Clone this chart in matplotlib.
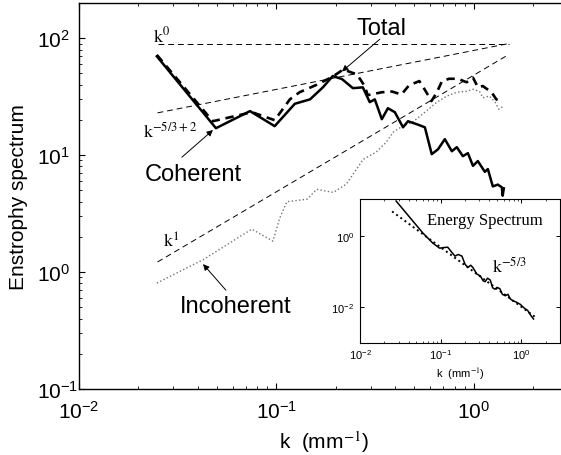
import numpy as np
import matplotlib
matplotlib.use('Agg')
import matplotlib.pyplot as plt
from matplotlib.ticker import LogLocator, LogFormatterSciNotation, NullFormatter, NullLocator

plt.rcParams['font.family'] = ['Liberation Sans', 'DejaVu Sans']
plt.rcParams['mathtext.fontset'] = 'stix'

# coherent part of the enstrophy spectrum
k_coh = [0.0248, 0.0494, 0.0735, 0.098, 0.124, 0.148, 0.172, 0.193, 0.215, 0.244,
         0.274, 0.297, 0.315, 0.342, 0.367, 0.398, 0.438, 0.464, 0.514, 0.565,
         0.612, 0.658, 0.713, 0.774, 0.82, 0.88, 0.933, 0.99, 1.048, 1.137,
         1.178, 1.248, 1.324, 1.387, 1.40, 1.419]
E_coh = [70, 17, 23.8, 17.7, 27.5, 30, 38, 47.5, 44.7, 37.4,
         38, 28.4, 30, 20.3, 25.2, 23.3, 17.3, 19.5, 18.4, 17.3,
         10.2, 11.2, 13.7, 10.8, 11.7, 9.8, 10.4, 8.1, 8.9, 7.2,
         7.6, 5.4, 5.6, 5.3, 4.5, 5.2]

# total spectrum
k_tot = [0.0248, 0.0476, 0.0752, 0.098, 0.117, 0.131, 0.160, 0.193, 0.218, 0.256,
         0.28, 0.29, 0.342, 0.385, 0.43, 0.47, 0.53, 0.575, 0.61, 0.65,
         0.69, 0.75, 0.83, 0.92, 0.99, 1.05, 1.11, 1.23, 1.30, 1.39]
E_tot = [72, 19.5, 23.3, 19.9, 30, 34.5, 40, 47, 54, 49,
         39, 32.6, 34.5, 35, 33, 39.6, 43, 34.5, 29, 34.5,
         43, 45, 45, 42, 46, 38, 39, 34.5, 30, 28.4]

# incoherent part
k_inc = [0.0248, 0.043, 0.075, 0.096, 0.104, 0.113, 0.143, 0.16, 0.194, 0.226,
         0.275, 0.32, 0.36, 0.39, 0.435, 0.49, 0.55, 0.65, 0.73, 0.82,
         0.92, 0.99, 1.07, 1.11, 1.2, 1.28, 1.34, 1.40]
E_inc = [0.805, 1.29, 2.33, 1.84, 2.9, 4.0, 4.2, 5.1, 4.8, 5.65,
         9.2, 10.6, 12.9, 15.7, 17.7, 19.2, 22.4, 28.4, 32, 34.5,
         35.2, 36.6, 35, 31, 32, 28.4, 24.7, 26]

# power-law guide lines (end points)
k_ref0 = [0.025, 1.5]
E_ref0 = [90, 90]
k_ref13 = [0.025, 1.5]
E_ref13 = [23, 90]
k_ref1 = [0.025, 1.45]
E_ref1 = [1.22, 70]

# inset: energy spectrum
k_en = [0.028, 0.06, 0.08, 0.097, 0.11, 0.122, 0.135, 0.15, 0.165, 0.183,
        0.2, 0.217, 0.235, 0.25, 0.28, 0.31, 0.335, 0.355, 0.38, 0.41,
        0.44, 0.47, 0.5, 0.54, 0.58, 0.63, 0.68, 0.73, 0.79, 0.86,
        0.97, 1.08, 1.19, 1.3, 1.41]
E_en = [9.4, 1.2, 0.62, 0.45, 0.47, 0.48, 0.36, 0.27, 0.30, 0.27,
        0.16, 0.13, 0.15, 0.13, 0.085, 0.075, 0.055, 0.052, 0.065, 0.058,
        0.035, 0.032, 0.036, 0.033, 0.023, 0.021, 0.023, 0.017, 0.015, 0.014,
        0.012, 0.0095, 0.0082, 0.006, 0.0047]
k_en53 = [0.025, 1.5]
E_en53 = [4.8, 0.0052]

fig = plt.figure(figsize=(5.61, 4.56), dpi=100)
ax = fig.add_axes([0.1408, 0.1447, 0.8717, 0.8465])

ax.plot(k_ref0, E_ref0, color='k', lw=0.7, dashes=(6, 4))
ax.plot(k_ref13, E_ref13, color='k', lw=0.7, dashes=(6, 4))
ax.plot(k_ref1, E_ref1, color='k', lw=0.7, dashes=(6, 4))
ax.plot(k_inc, E_inc, color='0.45', lw=1.0, ls=':')
ax.plot(k_tot, E_tot, color='k', lw=1.9, dashes=(3.2, 2.2))
ax.plot(k_coh, E_coh, color='k', lw=1.8)

ax.set_xscale('log')
ax.set_yscale('log')
ax.set_xlim(0.01, 3)
ax.set_ylim(0.1, 200)
ax.xaxis.set_major_locator(LogLocator(base=10, numticks=10))
ax.yaxis.set_major_locator(LogLocator(base=10, numticks=10))
ax.xaxis.set_major_formatter(LogFormatterSciNotation())
ax.yaxis.set_major_formatter(LogFormatterSciNotation())
ax.tick_params(which='both', direction='in', top=True, right=True, labelsize=15)
ax.tick_params(which='major', length=4, width=0.8)
ax.tick_params(which='minor', length=2.2, width=0.6)
ax.tick_params(axis='x', pad=7.5)
# matlab-like: y tick labels aligned on their left edge
ax.tick_params(axis='y', pad=30)
for lab in ax.get_yticklabels():
    lab.set_horizontalalignment('left')
for s in ax.spines.values():
    s.set_linewidth(1.0)

ax.set_xlabel(r'k  (mm$^{-1}$)', fontsize=15, labelpad=5)
ax.set_ylabel('Enstrophy spectrum', fontsize=15, labelpad=6.5)

# labels of the curves
ax.text(0.342, 122, 'Total', fontsize=17, ha='center', va='center')
ax.annotate('', xy=(0.215, 52), xytext=(0.334, 98),
            arrowprops=dict(arrowstyle='-|>', lw=0.7, color='k', mutation_scale=9,
                            shrinkA=0, shrinkB=0))
ax.text(0.0378, 6.9, 'Coherent', fontsize=17, ha='center', va='center')
ax.annotate('', xy=(0.0477, 16.4), xytext=(0.0332, 9.6),
            arrowprops=dict(arrowstyle='-|>', lw=0.7, color='k', mutation_scale=9,
                            shrinkA=0, shrinkB=0))
ax.text(0.0624, 0.51, 'Incoherent', fontsize=17, ha='center', va='center')
ax.annotate('', xy=(0.0425, 1.17), xytext=(0.0555, 0.70),
            arrowprops=dict(arrowstyle='-|>', lw=0.7, color='k', mutation_scale=9,
                            shrinkA=0, shrinkB=0))

ax.text(0.0237, 94, r'$\mathrm{k}^{0}$', fontsize=13, va='baseline', ha='left')
ax.text(0.0211, 14.5, r'$\mathrm{k}^{-5/3+2}$', fontsize=13, va='baseline', ha='left')
ax.text(0.0266, 1.64, r'$\mathrm{k}^{1}$', fontsize=13, va='baseline', ha='left')

# inset with the energy spectrum
ins = fig.add_axes([0.6417, 0.2456, 0.3565, 0.3158])
ins.plot(k_en53, E_en53, color='k', lw=1.4, ls=':')
ins.plot(k_en, E_en, color='k', lw=1.1)
ins.set_xscale('log')
ins.set_yscale('log')
ins.set_xlim(0.01, 3)
ins.set_ylim(1e-3, 10.7)
ins.xaxis.set_major_locator(LogLocator(base=10, numticks=10))
ins.xaxis.set_major_formatter(LogFormatterSciNotation())
ins.set_yticks([1e-2, 1])
ins.yaxis.set_major_formatter(LogFormatterSciNotation())
ins.yaxis.set_minor_locator(NullLocator())
ins.tick_params(which='both', direction='in', top=True, right=True, labelsize=8)
ins.tick_params(which='major', length=3, width=0.7)
ins.tick_params(which='minor', length=1.6, width=0.5)
ins.tick_params(axis='x', pad=3)
ins.tick_params(axis='y', pad=4)
ins.set_xlabel(r'k  (mm$^{-1}$)', fontsize=8, labelpad=3)
ins.text(0.335, 0.826, 'Energy Spectrum', transform=ins.transAxes, fontsize=12,
         family='Liberation Serif', va='baseline')
ins.text(0.66, 0.493, r'$\mathrm{k}^{-5/3}$', transform=ins.transAxes, fontsize=13,
         va='baseline')

fig.savefig('out.png', dpi=100)
